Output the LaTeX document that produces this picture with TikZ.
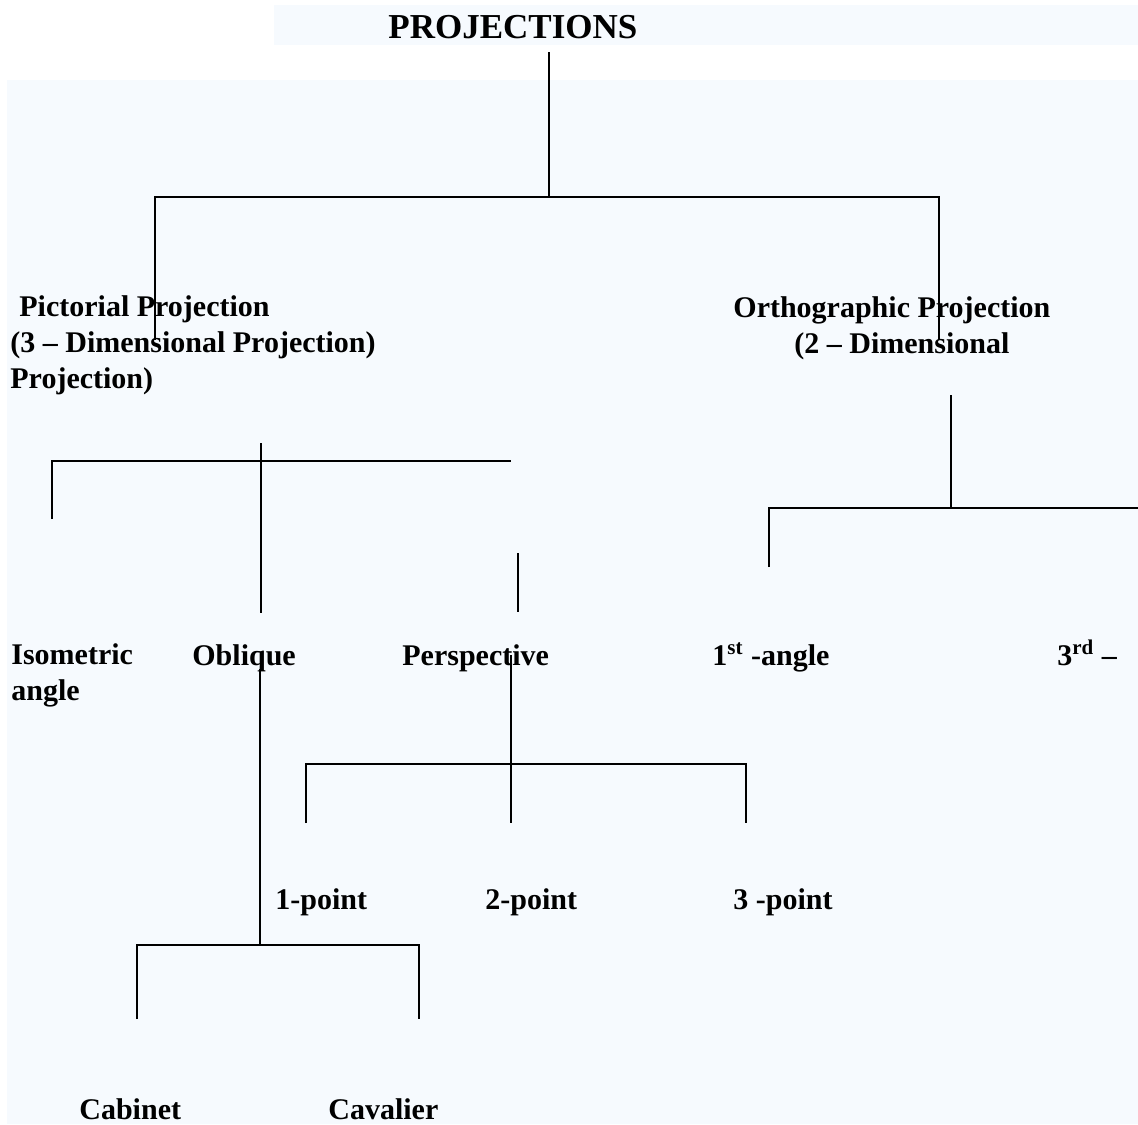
\documentclass[tikz,border=0pt]{standalone}
\usepackage{fontspec}
\setmainfont{Liberation Serif}
\definecolor{sheet}{HTML}{F6FAFE}

\begin{document}
\begin{tikzpicture}[x=0.5pt,y=-0.5pt]
\tikzstyle{every node}=[
	inner sep=0pt,
	anchor=base west,
	align=left,
	font=\fontsize{15}{17.8}\selectfont\bfseries ]
\tikzstyle{heading}=[font=\fontsize{17.5}{20}\selectfont\bfseries]
\tikzstyle{branch}=[line width=1pt]
\useasboundingbox (0,0) rectangle (1138,1124);
\fill[sheet] (274,5) rectangle (1138,45);
\fill[sheet] (7,80) rectangle (1138,1124);

\node[heading] (proj) at (388,38) {PROJECTIONS};
\node (pict) at (10,388) {\hspace*{4.5pt}Pictorial Projection\\(3 -- Dimensional Projection)\\Projection)};
\node (ortho) at (733,353) {Orthographic Projection\\\hspace*{30.5pt}(2 -- Dimensional};
\node (iso) at (11,700) {Isometric\\angle};
\node (obl) at (192,665) {Oblique};
\node (persp) at (402,665) {Perspective};
\node (first) at (712,665) {1\textsuperscript{st} -angle};
\node (third) at (1057,665) {3\textsuperscript{rd} --};
\node (onep) at (275,909) {1-point};
\node (twop) at (485,909) {2-point};
\node (threep) at (733,909) {3 -point};
\node (cab) at (79,1119) {Cabinet};
\node (cav) at (328,1119) {Cavalier};

\coordinate (t0) at (549,52);
\coordinate (t1) at (549,197);
\coordinate (pl) at (155,340);
\coordinate (pr) at (939,340);
\draw[branch] (t0) -- (t1);
\draw[branch] (pl) |- (t1) -| (pr);

\coordinate (p0) at (261,443);
\coordinate (p1) at (261,613);
\coordinate (ph) at (511,461);
\coordinate (i0) at (52,519);
\coordinate (s0) at (518,553);
\coordinate (s1) at (518,612);
\draw[branch] (p0) -- (p1);
\draw[branch] (i0) |- (ph);
\draw[branch] (s0) -- (s1);

\coordinate (o0) at (951,395);
\coordinate (o1) at (951,508);
\coordinate (o2) at (769,567);
\coordinate (oe) at (1138,508);
\draw[branch] (o0) -- (o1);
\draw[branch] (o2) |- (oe);

\coordinate (b0) at (260,669);
\coordinate (b1) at (260,945);
\coordinate (cb) at (137,1019);
\coordinate (cv) at (419,1019);
\draw[branch] (b0) -- (b1);
\draw[branch] (cb) |- (b1) -| (cv);

\coordinate (e0) at (511,655);
\coordinate (e1) at (511,764);
\coordinate (e2) at (511,823);
\coordinate (k1) at (306,823);
\coordinate (k3) at (746,823);
\draw[branch] (e0) -- (e2);
\draw[branch] (k1) |- (e1) -| (k3);
\end{tikzpicture}
\end{document}
